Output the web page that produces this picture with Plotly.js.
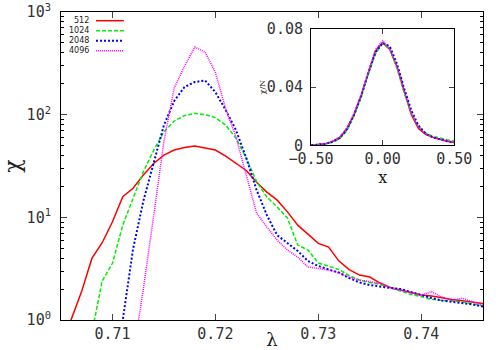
<!DOCTYPE html>
<html>
<head>
<meta charset="utf-8">
<script src="https://cdn.plot.ly/plotly-3.0.1.min.js"></script>
<style>
  html, body { margin: 0; padding: 0; background: white; }
  #plot { width: 500px; height: 350px; }
</style>
</head>
<body>
<div id="plot"></div>
<script>
// main panel: susceptibility vs lambda, log scale
const lambda = [0.705, 0.706, 0.707, 0.708, 0.709, 0.710, 0.711, 0.712, 0.713, 0.714,
    0.715, 0.716, 0.717, 0.718, 0.719, 0.720, 0.721, 0.722, 0.723, 0.724,
    0.725, 0.726, 0.727, 0.728, 0.729, 0.730, 0.731, 0.732, 0.733, 0.734,
    0.735, 0.736, 0.737, 0.738, 0.739, 0.740, 0.741, 0.742, 0.743, 0.744,
    0.745, 0.746];

const chi512 = [0.55, 1.0, 1.89, 3.98, 5.66, 9.06, 15.9, 19.2, 25.8, 33.5,
    40.4, 45.2, 47.8, 49.5, 47.3, 45.2, 39.5, 33.8, 28.6, 22.0,
    17.6, 14.7, 11.3, 8.4, 6.88, 5.58, 5.14, 3.75, 3.1, 2.74,
    2.62, 2.29, 2.07, 1.95, 1.85, 1.75, 1.71, 1.64, 1.58, 1.54,
    1.50, 1.45];

const chi1024 = [0.2, 0.3, 0.45, 0.75, 2.4, 3.57, 8.4, 15.3, 27.8, 45,
    68, 86.7, 98, 103, 100, 93.7, 79, 59, 37.8, 22.3,
    15.8, 12.6, 9.85, 5.37, 4.8, 3.59, 3.32, 3.10, 2.71, 2.45,
    2.32, 2.22, 2.07, 1.92, 1.77, 1.69, 1.59, 1.55, 1.54, 1.50,
    1.43, 1.37];

const chi2048 = [0.1, 0.1, 0.1, 0.1, 0.15, 0.3, 1.0, 4.91, 14.4, 33,
    79, 136, 186, 208, 215, 166, 111, 70.8, 37.8, 18.5,
    10.5, 6.7, 5.6, 4.7, 3.75, 3.36, 3.10, 2.90, 2.56, 2.32,
    2.19, 2.11, 2.05, 2.0, 1.87, 1.73, 1.64, 1.55, 1.50, 1.46,
    1.42, 1.35];

const chi4096 = [0.1, 0.1, 0.1, 0.1, 0.1, 0.1, 0.1, 0.45, 2.0, 10.3,
    55, 182, 297, 455, 407, 258, 114, 60.5, 25.8, 11.0,
    8.05, 6.0, 4.8, 4.1, 3.28, 3.19, 3.07, 2.87, 2.62, 2.45,
    2.37, 2.27, 2.05, 1.94, 1.85, 1.75, 1.89, 1.67, 1.55, 1.63,
    1.50, 1.40];

// inset: chi/N vs scaled variable x
const xs = [-0.50, -0.45, -0.40, -0.35, -0.30, -0.25, -0.20, -0.15, -0.10, -0.05,
    0.00, 0.05, 0.10, 0.15, 0.20, 0.25, 0.30, 0.35, 0.40, 0.45, 0.50];
const in512 = [0, 0.0003, 0.001, 0.0025, 0.005, 0.011, 0.021, 0.034, 0.050, 0.065,
    0.0705, 0.066, 0.054, 0.037, 0.021, 0.0115, 0.0075, 0.0055, 0.004, 0.0028, 0.002];
const in1024 = [0, 0.0002, 0.0008, 0.002, 0.0045, 0.010, 0.020, 0.033, 0.049, 0.063,
    0.070, 0.066, 0.053, 0.036, 0.022, 0.013, 0.0085, 0.0062, 0.0048, 0.0038, 0.003];
const in2048 = [0, 0.0003, 0.001, 0.0025, 0.005, 0.011, 0.021, 0.034, 0.050, 0.064,
    0.0705, 0.068, 0.056, 0.039, 0.024, 0.0135, 0.008, 0.0055, 0.004, 0.0028, 0.002];
const in4096 = [0, 0.0004, 0.0012, 0.003, 0.0058, 0.012, 0.022, 0.035, 0.051, 0.066,
    0.072, 0.066, 0.054, 0.037, 0.022, 0.0125, 0.0078, 0.0055, 0.004, 0.0028, 0.0021];

const sizes = ["512", "1024", "2048", "4096"];
const colors = ["#ff0000", "#00ee00", "#0000ff", "#ff00ff"];
const dashes = ["solid", "4px,2px", "2px,2px", "1px,1px"];
const widths = [1.5, 1.5, 2, 1.5];

const xTicks = [0.71, 0.72, 0.73, 0.74];
const yTicks = [1, 10, 100, 1000];
const yTickText = ["10<sup>0</sup>", "10<sup>1</sup>", "10<sup>2</sup>", "10<sup>3</sup>"];

let mainY = [chi512, chi1024, chi2048, chi4096];
let insetY = [in512, in1024, in2048, in4096];

let data = [];
for (let i = 0; i < 4; i++) {
    data.push({
        x: lambda, y: mainY[i], type: "scatter", mode: "lines", name: sizes[i],
        line: {color: colors[i], dash: dashes[i], width: widths[i]}
    });
}
for (let i = 0; i < 4; i++) {
    data.push({
        x: xs, y: insetY[i], type: "scatter", mode: "lines", name: sizes[i],
        xaxis: "x2", yaxis: "y2",
        line: {color: colors[i], dash: dashes[i], width: widths[i]}
    });
}

let minorLog = [];
[1, 10, 100].forEach(d => { for (let k = 2; k < 10; k++) minorLog.push(d * k); });

const tickFont = {family: "DejaVu Sans Mono", size: 15, color: "#333"};

// gnuplot style key: label on the left, line sample on the right
const keyTop = 0.9718, keyStep = 0.0325;
let keyShapes = sizes.map((s, i) => ({
    type: "line", xref: "paper", yref: "paper",
    x0: 0.083, x1: 0.149, y0: keyTop - i * keyStep, y1: keyTop - i * keyStep,
    line: {color: colors[i], dash: dashes[i], width: widths[i]}
}));
let keyLabels = sizes.map((s, i) => ({
    text: s, xref: "paper", yref: "paper", x: 0.07, y: keyTop - i * keyStep,
    xanchor: "right", yanchor: "middle", showarrow: false,
    font: {family: "DejaVu Sans", size: 8, color: "#222"}
}));

let layout = {
    width: 500, height: 350,
    margin: {l: 61, r: 17, t: 12, b: 30},
    paper_bgcolor: "white", plot_bgcolor: "white",
    font: tickFont,
    showlegend: false,
    xaxis: {
        range: [0.705, 0.746], tickvals: xTicks, ticktext: xTicks.map(v => v.toFixed(2)),
        ticks: "inside", ticklen: 6, showline: true, mirror: "allticks", linecolor: "black",
        showgrid: false, zeroline: false, tickfont: tickFont,
        title: {text: "λ", font: {family: "DejaVu Serif", size: 18, color: "#222"}, standoff: 0}
    },
    yaxis: {
        type: "log", range: [0, 3], tickvals: yTicks, ticktext: yTickText,
        ticks: "inside", ticklen: 6, showline: true, mirror: "allticks", linecolor: "black",
        showgrid: false, zeroline: false, tickfont: tickFont, ticklabelstandoff: 6,
        minor: {tickvals: minorLog, ticks: "inside", ticklen: 3, tickcolor: "black", showgrid: false},
        title: {text: "χ", font: {family: "DejaVu Serif", size: 22, color: "#222"}, standoff: 8}
    },
    xaxis2: {
        domain: [0.5924, 0.9320], anchor: "y2", range: [-0.5, 0.5],
        tickvals: [-0.5, 0, 0.5], ticktext: ["\u22120.50", "0.00", "0.50"],
        ticks: "inside", ticklen: 5, showline: true, mirror: "allticks", linecolor: "black",
        showgrid: false, zeroline: false, tickfont: tickFont,
        title: {text: "x", font: {family: "DejaVu Serif", size: 16, color: "#222"}, standoff: 0}
    },
    yaxis2: {
        domain: [0.5672, 0.9448], anchor: "x2", range: [0, 0.08],
        tickvals: [0, 0.04, 0.08], ticktext: ["0", "0.04", "0.08"],
        ticks: "inside", ticklen: 5, showline: true, mirror: "allticks", linecolor: "black",
        showgrid: false, zeroline: false, tickfont: tickFont, ticklabelstandoff: 4,
        title: {text: "χ/N", font: {family: "DejaVu Serif", size: 8, color: "#222"}, standoff: 0}
    },
    shapes: keyShapes,
    annotations: keyLabels
};

Plotly.newPlot("plot", data, layout, {staticPlot: true});
</script>
</body>
</html>
